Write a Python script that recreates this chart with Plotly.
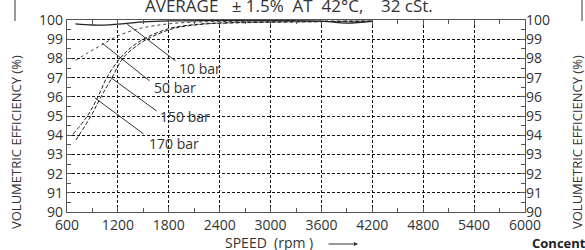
import plotly.graph_objects as go

# ---- data ----
rpm_10 = [700, 900, 1100, 1300, 1500, 1800, 2400, 3000, 3600, 3900, 4200]
eff_10 = [99.8, 99.74, 99.75, 99.82, 99.9, 99.95, 99.97, 99.97, 99.94, 99.84, 99.93]

rpm_50 = [700, 850, 1000, 1200, 1450, 1800, 2200, 2700, 3300, 4200]
eff_50 = [97.9, 98.3, 98.68, 99.17, 99.55, 99.8, 99.9, 99.93, 99.95, 99.95]

rpm_150 = [670, 840, 965, 1070, 1225, 1350, 1500, 1800, 2150, 2500, 3000, 3600, 4200]
eff_150 = [94.05, 95.0, 96.0, 97.0, 98.0, 98.55, 99.0, 99.55, 99.78, 99.86, 99.9, 99.92, 99.95]

rpm_170 = [705, 883, 1001, 1131, 1257, 1390, 1543, 1850, 2200, 2500, 3000, 3600, 4200]
eff_170 = [93.75, 95.0, 96.0, 97.0, 98.0, 98.55, 99.0, 99.55, 99.78, 99.84, 99.88, 99.91, 99.93]

x_ticks = [600, 1200, 1800, 2400, 3000, 3600, 4200, 4800, 5400, 6000]
y_ticks = [90, 91, 92, 93, 94, 95, 96, 97, 98, 99, 100]

# labels: text, point on curve (rpm, eff), leader end (rpm, eff), text left-middle (rpm, eff)
label_text = ["10 bar", "50 bar", "150 bar", "170 bar"]
label_head_rpm = [1307, 1013, 1107, 930]
label_head_eff = [99.8, 98.8, 97.03, 95.94]
label_tail_rpm = [1897, 1590, 1673, 1520]
label_tail_eff = [97.81, 96.77, 95.21, 94.01]
label_pos_rpm = [1909, 1614, 1685, 1555]
label_pos_eff = [97.5, 96.46, 94.95, 93.59]

INK = "#333333"
FONT = "Open Sans"
SP = "\u00a0"

fig = go.Figure()
fig.add_trace(go.Scatter(x=rpm_10, y=eff_10, mode="lines", line=dict(color="#222", width=1.3, shape="spline")))
fig.add_trace(go.Scatter(x=rpm_50, y=eff_50, mode="lines", line=dict(color="#444", width=1, dash="dot", shape="spline")))
fig.add_trace(go.Scatter(x=rpm_150, y=eff_150, mode="lines", line=dict(color="#222", width=1, dash="4px,2px", shape="spline")))
fig.add_trace(go.Scatter(x=rpm_170, y=eff_170, mode="lines", line=dict(color="#222", width=1, dash="4px,2px", shape="spline")))
# invisible trace for right axis
fig.add_trace(go.Scatter(x=[600], y=[90], yaxis="y2", mode="markers", marker=dict(opacity=0), hoverinfo="skip"))

axis_common = dict(
    showgrid=True, gridcolor="#111", griddash="3px,2px", gridwidth=1,
    showline=True, linecolor="#555", linewidth=1.2, zeroline=False,
    ticks="inside", ticklen=5, tickcolor="#555",
    tickfont=dict(family=FONT, size=14, color=INK),
    automargin=False,
)

fig.update_layout(
    width=585, height=250,
    margin=dict(l=67, r=60, t=20, b=38),
    plot_bgcolor="white", paper_bgcolor="white",
    showlegend=False,
    xaxis=dict(range=[600, 6000], tickvals=x_ticks, mirror="ticks",
               minor=dict(dtick=300, ticklen=4, ticks="inside", tickcolor="#555", showgrid=False),
               **axis_common),
    yaxis=dict(range=[90, 100], tickvals=y_ticks, mirror=True,
               minor=dict(dtick=0.5, ticklen=4, ticks="inside", tickcolor="#555", showgrid=False),
               **axis_common),
    yaxis2=dict(range=[90, 100], tickvals=y_ticks, overlaying="y", side="right",
                showgrid=False, showline=False, zeroline=False, automargin=False,
                ticks="inside", ticklen=5, tickcolor="#555",
                minor=dict(dtick=0.5, ticklen=4, ticks="inside", tickcolor="#555", showgrid=False),
                tickfont=dict(family=FONT, size=14, color=INK)),
)

W, H, L, T = 458.0, 192.0, 67.0, 20.0
def px(x):
    return (x - L) / W
def py(y):
    return (T + H - y) / H

for t, hx, hy, tx, ty, lx, ly in zip(label_text, label_head_rpm, label_head_eff,
                                     label_tail_rpm, label_tail_eff, label_pos_rpm, label_pos_eff):
    fig.add_annotation(x=hx, y=hy, xref="x", yref="y", ax=tx, ay=ty, axref="x", ayref="y",
                       text="", showarrow=True, arrowhead=0, arrowwidth=1, arrowcolor=INK)
    fig.add_annotation(x=lx, y=ly, xref="x", yref="y", text=t, showarrow=False,
                       xanchor="left", yanchor="middle", borderpad=0,
                       font=dict(family=FONT, size=14, color=INK))

# title (cut at the top of the picture)
title = "AVERAGE" + SP * 3 + "±" + SP + "1.5%" + SP * 2 + "AT" + SP * 2 + "42°C," + SP * 4 + "32 cSt."
fig.add_annotation(x=px(143), y=py(6), xref="paper", yref="paper", showarrow=False,
                   text=title, xanchor="left", yanchor="middle",
                   font=dict(family=FONT, size=17, color=INK))
# y titles
for xc in (16, 577):
    fig.add_annotation(x=px(xc), y=py(142), xref="paper", yref="paper", showarrow=False,
                       text="VOLUMETRIC EFFICIENCY (%)", textangle=-90,
                       xanchor="center", yanchor="middle",
                       font=dict(family=FONT, size=13, color=INK))
for xa in (15, 582):
    fig.add_shape(type="line", xref="paper", yref="paper", x0=px(xa), x1=px(xa), y0=py(21), y1=py(-2),
                  line=dict(color=INK, width=1))
# x title
fig.add_annotation(x=px(269), y=py(242), xref="paper", yref="paper", showarrow=False,
                   text="SPEED\u00a0 (rpm\u00a0)", xanchor="center", yanchor="middle",
                   font=dict(family=FONT, size=14, color=INK))
fig.add_annotation(x=px(358), y=py(244), xref="paper", yref="paper", ax=-31, ay=0,
                   text="", showarrow=True, arrowhead=2, arrowsize=0.8, arrowwidth=1, arrowcolor=INK)
fig.add_annotation(x=px(530), y=py(243), xref="paper", yref="paper", showarrow=False,
                   text="<b>Concentric</b>", xanchor="left", yanchor="middle",
                   font=dict(family=FONT, size=13, color="#222"))

fig.write_html("out.html", config={"displayModeBar": False},
               post_script="document.body.style.margin='0px';")
